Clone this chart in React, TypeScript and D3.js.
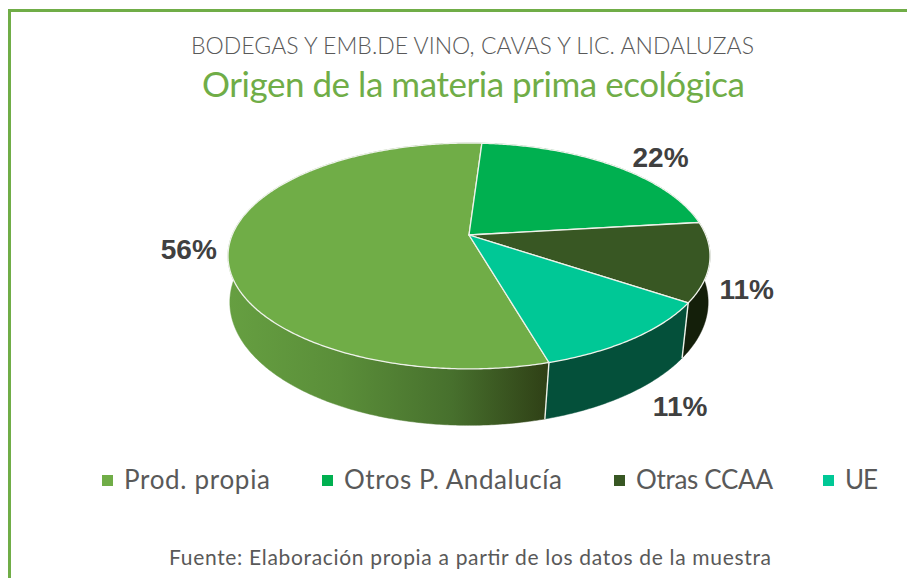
import React from "react";
import * as d3 from "d3";

const categories = ["Prod. propia", "Otros P. Andalucía", "Otras CCAA", "UE"];
const values = [55.5, 22.1, 11.3, 11.1];
const colors = ["#70ad47", "#00b050", "#385723", "#00c896"];
const sideColors = ["url(#sideProd)", "#007a38", "#141f0a", "#04503a"];
const labelDx = [-40, 48, 37, 47];
const labelDy = [12, 2, 37, 77];
const legendX = [102, 322, 614, 823];
const legendTextLen = [146, 218, 137, 33];

const W = 907, H = 578;
const cx = 469, cy = 235, R = 236.8, K = 109, P = 0.186, Pb = 0.14;
const startAngle = (163.9 * Math.PI) / 180;

const project = (t: number, bottom = false): [number, number] => {
  const u = Math.sin(t), v = -Math.cos(t);
  if (bottom) {
    const s = 1 / (1 - Pb * v);
    return [cx + R * u * s, cy + 50 + 1.107 * K * v * s];
  }
  const s = 1 / (1 - P * v);
  return [cx + R * u * s, cy + K * v * s];
};

const pie = d3.pie<number>().sort(null).startAngle(startAngle).endAngle(startAngle + 2 * Math.PI);
const arcs = pie(values);
const line = d3.line();
const sample = (a: number, b: number) => {
  const n = Math.max(2, Math.ceil(Math.abs(b - a) / 0.01));
  return d3.range(n + 1).map((i) => a + ((b - a) * i) / n);
};

const wallOrder = [1, 2, 3, 0];
const stroke = "#eef2ea";

export default function App() {
  return (
    <svg width={W} height={H} style={{ position: "fixed", left: 0, top: 0, background: "#fff" }} fontFamily="Lato">
      <defs>
        <linearGradient id="sideProd" gradientUnits="userSpaceOnUse" x1={228} x2={548} y1={0} y2={0}>
          <stop offset="0" stopColor="#669f41" />
          <stop offset="0.35" stopColor="#5a8e39" />
          <stop offset="0.7" stopColor="#47702d" />
          <stop offset="1" stopColor="#2f4016" />
        </linearGradient>
      </defs>
      <path d="M9.5 578V10.5H907" fill="none" stroke="#70ad47" strokeWidth={3} />
      <text x={472.5} y={54} textAnchor="middle" fontSize={23} fontWeight={300} fill="#595959" textLength={563}>BODEGAS Y EMB.DE VINO, CAVAS Y LIC. ANDALUZAS</text>
      <text x={473.5} y={97} textAnchor="middle" fontSize={35} fill="#70ad47" textLength={543}>Origen de la materia prima ecológica</text>

      {wallOrder.map((i) => {
        const a = arcs[i];
        const top = sample(a.startAngle, a.endAngle).map((t) => project(t));
        const bot = sample(a.startAngle, a.endAngle).map((t) => project(t, true)).reverse();
        return <path key={i} d={line([...top, ...bot])! + "Z"} fill={sideColors[i]} stroke={sideColors[i]} strokeWidth={0.5} />;
      })}
      {[arcs[3].startAngle, arcs[3].endAngle].map((t, i) => (
        <path key={i} d={line([project(t), project(t, true)])!} stroke={stroke} strokeWidth={1.4} fill="none" />
      ))}
      {arcs.map((a, i) => {
        const pts = sample(a.startAngle, a.endAngle).map((t) => project(t));
        return <path key={i} d={line([[cx, cy], ...pts])! + "Z"} fill={colors[i]} stroke={stroke} strokeWidth={1.3} strokeLinejoin="round" />;
      })}
      {arcs.map((a, i) => {
        const [x, y] = project((a.startAngle + a.endAngle) / 2);
        return (
          <text key={i} x={x + labelDx[i]} y={y + labelDy[i]} textAnchor="middle" fontFamily="Liberation Sans" fontWeight={700} fontSize={28} fill="#404040">
            {d3.format(".0f")(values[i])}%
          </text>
        );
      })}
      {categories.map((c, i) => (
        <g key={c}>
          <rect x={legendX[i]} y={475} width={11} height={11} fill={colors[i]} />
          <text x={legendX[i] + 22} y={489} fontSize={26} fill="#595959" textLength={legendTextLen[i]}>{c}</text>
        </g>
      ))}
      <text x={470} y={565} textAnchor="middle" fontSize={21} fill="#595959" textLength={602}>Fuente: Elaboración propia a partir de los datos de la muestra</text>
    </svg>
  );
}
